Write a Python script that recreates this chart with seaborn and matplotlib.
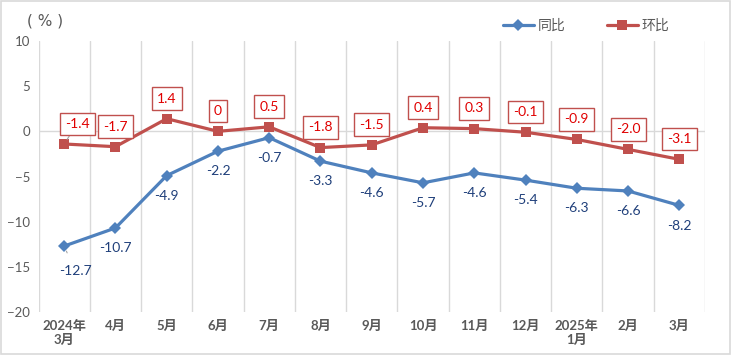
import numpy as np
import pandas as pd
import seaborn as sns
import matplotlib.pyplot as plt

# Monthly change data (%)
months = ['2024年\n3月', '4月', '5月', '6月', '7月', '8月', '9月', '10月',
          '11月', '12月', '2025年\n1月', '2月', '3月']
yoy = [-12.7, -10.7, -4.9, -2.2, -0.7, -3.3, -4.6, -5.7, -4.6, -5.4, -6.3, -6.6, -8.2]
mom = [-1.4, -1.7, 1.4, 0, 0.5, -1.8, -1.5, 0.4, 0.3, -0.1, -0.9, -2.0, -3.1]
yoy_labels = ['-12.7', '-10.7', '-4.9', '-2.2', '-0.7', '-3.3', '-4.6', '-5.7',
              '-4.6', '-5.4', '-6.3', '-6.6', '-8.2']
mom_labels = ['-1.4', '-1.7', '1.4', '0', '0.5', '-1.8', '-1.5', '0.4',
              '0.3', '-0.1', '-0.9', '-2.0', '-3.1']

df = pd.DataFrame({
    'month': months * 2,
    'value': yoy + mom,
    'series': ['同比'] * len(months) + ['环比'] * len(months),
})

sns.set_style('white')
plt.rcParams['font.family'] = ['Lato', 'Noto Sans CJK SC', 'DejaVu Sans']

blue = '#4F81BD'
red = '#C0504D'
grid_c = '#D9D9D9'
txt = '#595959'

fig = plt.figure(figsize=(7.31, 3.55), dpi=100)
ax = fig.add_axes([0.0527, 0.1211, 0.9117, 0.7634])

sns.lineplot(data=df, x='month', y='value', hue='series', style='series',
             palette={'同比': blue, '环比': red},
             markers={'同比': 'D', '环比': 's'}, dashes=False,
             markersize=6.5, markeredgewidth=0, linewidth=2.3,
             sort=False, ax=ax)

ax.set_xlim(-0.5, len(months) - 0.5)
ax.set_ylim(-20, 10)
ax.set_yticks([-20, -15, -10, -5, 0, 5, 10])
ax.set_xticks(range(len(months)))
ax.set_xticklabels(months, fontweight='bold', color=txt, fontsize=9.5, linespacing=1.15)
ax.tick_params(axis='y', labelsize=9.5, colors=txt, length=0, pad=6)
ax.tick_params(axis='x', length=0, pad=6)
ax.set_xticks(np.arange(-0.5, len(months)), minor=True)
ax.grid(True, which='minor', axis='x', color=grid_c, linewidth=1)
ax.grid(False, which='major')
ax.axhline(0, color=grid_c, linewidth=1, zorder=0)
for s in ax.spines.values():
    s.set_visible(False)
ax.set_xlabel('')
ax.set_ylabel('')

# data labels
for i, (v, lab) in enumerate(zip(mom, mom_labels)):
    dx = 13 if i == 0 else 0
    ax.annotate(lab, (i, v), xytext=(dx * 0.72, 14.5), textcoords='offset points',
                ha='center', va='center', color='#E00000', fontsize=10,
                bbox=dict(boxstyle='square,pad=0.38', fc='white', ec=red, lw=1),
                arrowprops=dict(arrowstyle='-', color='#A6A6A6', lw=0.8,
                                shrinkA=0, shrinkB=4) if i == 0 else None)
for i, (v, lab) in enumerate(zip(yoy, yoy_labels)):
    dx = 11 if i == 0 else 0
    dy = -18 if i == 0 else -14.5
    ax.annotate(lab, (i, v), xytext=(dx * 0.72, dy), textcoords='offset points',
                ha='center', va='center', color='#1F3F7A', fontsize=10,
                arrowprops=dict(arrowstyle='-', color='#A6A6A6', lw=0.8,
                                shrinkA=7, shrinkB=4) if i == 0 else None)

leg = ax.legend(loc='center', bbox_to_anchor=(0.802, 0.928),
                bbox_transform=fig.transFigure, ncol=2, frameon=False,
                fontsize=10, handlelength=2.2, columnspacing=3.0, handletextpad=0.3)
for t in leg.get_texts():
    t.set_color(txt)

fig.text(0.037, 0.942, '( % )', fontsize=11, color=txt, ha='left', va='center',
         family=['DejaVu Sans'])

fig.patches.append(plt.Rectangle((0.001, 0.002), 0.997, 0.995, transform=fig.transFigure,
                                 fill=False, ec=grid_c, lw=1.2))

fig.savefig('out.png', dpi=100)
